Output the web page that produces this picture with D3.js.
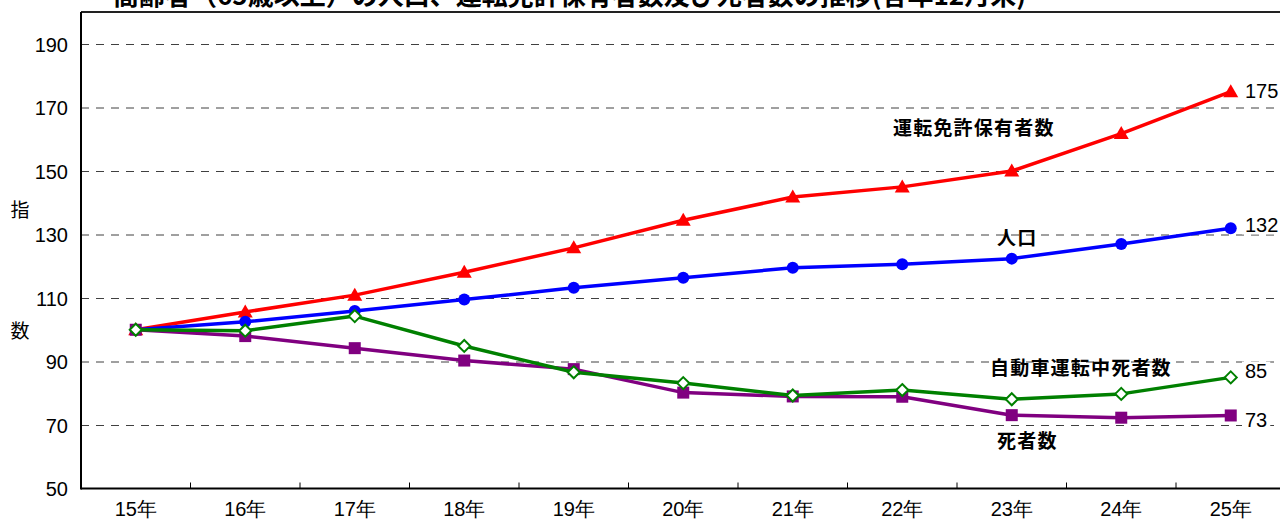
<!DOCTYPE html>
<html>
<head>
<meta charset="utf-8">
<script src="https://cdn.jsdelivr.net/npm/d3@7"></script>
<style>
  html, body { margin: 0; padding: 0; background: #fff; overflow: hidden; }
  svg { display: block; }
  .num { font-family: "Liberation Sans Narrow", "Arial Narrow", "Liberation Sans", sans-serif; font-size: 20px; fill: #000; }
  .jp { font-family: "Noto Sans CJK JP", sans-serif; fill: #000; }
</style>
</head>
<body>
<svg id="chart" width="1280" height="525"></svg>
<script>
// Index values (15年 = 100), elderly aged 65+
const years = ["15年", "16年", "17年", "18年", "19年", "20年", "21年", "22年", "23年", "24年", "25年"];
const licenseHolders = [100, 105.6, 110.9, 118.1, 125.8, 134.5, 141.8, 145.0, 150.0, 161.8, 175];
const population = [100, 102.5, 105.9, 109.5, 113.2, 116.4, 119.5, 120.6, 122.4, 127.0, 132];
const driverDeaths = [100, 99.7, 104.3, 94.9, 86.6, 83.2, 79.3, 81.0, 78.1, 79.8, 85];
const deaths = [100, 98.0, 94.2, 90.3, 87.6, 80.2, 79.0, 78.9, 73.1, 72.3, 73];
const yTicks = [50, 70, 90, 110, 130, 150, 170, 190];

const series = [
  { name: "運転免許保有者数", values: licenseHolders, color: "#ff0000", marker: "triangle", end: "175", lx: 893, ly: 128 },
  { name: "人口", values: population, color: "#0000ff", marker: "circle", end: "132", lx: 997, ly: 238 },
  { name: "死者数", values: deaths, color: "#800080", marker: "square", end: "73", lx: 997, ly: 441 },
  { name: "自動車運転中死者数", values: driverDeaths, color: "#008000", marker: "diamond", end: "85", lx: 990, ly: 368 }
];

const svg = d3.select("#chart");
const plotLeft = 81, plotTop = 12, plotBottom = 488.5, plotRight = 1285.5;

const x = d3.scaleBand().domain(years).range([plotLeft, plotRight]).padding(0);
const y = d3.scaleLinear().domain([50, 190]).range([plotBottom, 44]);

// Title (runs off the top edge)
svg.append("text")
  .attr("class", "jp")
  .attr("x", 113).attr("y", 5)
  .attr("font-size", 26).attr("font-weight", "bold")
  .text("高齢者（65歳以上）の人口、運転免許保有者数及び死者数の推移(各年12月末)");

// Dashed gridlines
svg.append("g")
  .attr("transform", `translate(${plotLeft},0)`)
  .call(d3.axisLeft(y).tickValues(yTicks.filter(v => v > 50)).tickSize(-(1280 - plotLeft)).tickFormat(""))
  .call(g => g.select(".domain").remove())
  .call(g => g.selectAll("line").attr("stroke", "#404040").attr("stroke-width", 1).attr("stroke-dasharray", "8,7"));

// Y axis labels
svg.append("g")
  .attr("transform", `translate(${plotLeft},0)`)
  .call(d3.axisLeft(y).tickValues(yTicks).tickSize(0).tickPadding(13).tickFormat(d3.format("d")))
  .call(g => g.select(".domain").remove())
  .call(g => g.selectAll("text").attr("class", "num").attr("font-size", null).attr("font-family", null).attr("dy", "0.36em"));

// X axis labels
svg.append("g")
  .attr("transform", `translate(0,${plotBottom})`)
  .call(d3.axisBottom(x).tickSize(0).tickPadding(20))
  .call(g => g.select(".domain").remove())
  .call(g => g.selectAll("text").attr("class", "num").attr("font-size", null).attr("font-family", null).attr("dy", "0.36em"));

// Inner tick marks at category boundaries
svg.append("g").selectAll("line")
  .data(years.slice(1))
  .join("line")
  .attr("x1", d => x(d)).attr("x2", d => x(d))
  .attr("y1", plotBottom).attr("y2", plotBottom - 6)
  .attr("stroke", "#000").attr("stroke-width", 1);

// Frame: top rule, left axis, bottom axis
svg.append("line").attr("x1", plotLeft).attr("x2", 1280).attr("y1", plotTop).attr("y2", plotTop)
  .attr("stroke", "#222").attr("stroke-width", 2);
svg.append("line").attr("x1", plotLeft).attr("x2", plotLeft).attr("y1", plotTop).attr("y2", plotBottom + 1)
  .attr("stroke", "#000").attr("stroke-width", 2);
svg.append("line").attr("x1", plotLeft).attr("x2", 1280).attr("y1", plotBottom).attr("y2", plotBottom)
  .attr("stroke", "#000").attr("stroke-width", 2);

// Y axis title
svg.append("text").attr("class", "jp").attr("x", 20).attr("y", 210).attr("dy", "0.35em")
  .attr("text-anchor", "middle").attr("font-size", 19).text("指");
svg.append("text").attr("class", "jp").attr("x", 20).attr("y", 331).attr("dy", "0.35em")
  .attr("text-anchor", "middle").attr("font-size", 19).text("数");

const cx = d => x(d) + x.bandwidth() / 2;
const line = d3.line().x((v, i) => cx(years[i])).y(v => y(v));

function drawMarker(g, type, color, px, py) {
  if (type === "triangle") {
    g.append("path").attr("d", `M${px},${py - 7.5}L${px + 7.5},${py + 5.5}L${px - 7.5},${py + 5.5}Z`).attr("fill", color);
  } else if (type === "circle") {
    g.append("circle").attr("cx", px).attr("cy", py).attr("r", 6).attr("fill", color);
  } else if (type === "square") {
    g.append("rect").attr("x", px - 6).attr("y", py - 6).attr("width", 12).attr("height", 12).attr("fill", color);
  } else {
    g.append("path").attr("d", `M${px},${py - 6}L${px + 6},${py}L${px},${py + 6}L${px - 6},${py}Z`)
      .attr("fill", "#fff").attr("stroke", color).attr("stroke-width", 2);
  }
}

series.forEach(s => {
  const g = svg.append("g");
  g.append("path").attr("d", line(s.values)).attr("fill", "none")
    .attr("stroke", s.color).attr("stroke-width", 3.5).attr("stroke-linejoin", "round");
  s.values.forEach((v, i) => drawMarker(g, s.marker, s.color, cx(years[i]), y(v)));
});

// End-of-series values with a white backing
const endOffsets = { "175": -1, "132": -3, "85": -7, "73": 4 };
series.forEach(s => {
  const last = s.values[s.values.length - 1];
  const t = svg.append("text").attr("class", "num")
    .attr("x", 1245).attr("y", y(last) + endOffsets[s.end]).attr("dy", "0.36em")
    .text(s.end);
  const b = t.node().getBBox();
  svg.insert("rect", function () { return t.node(); })
    .attr("x", b.x - 3).attr("y", b.y + 2).attr("width", b.width + 6).attr("height", b.height - 4)
    .attr("fill", "#fff");
});

// Series names
series.forEach(s => {
  svg.append("text").attr("class", "jp")
    .attr("x", s.lx).attr("y", s.ly).attr("dy", "0.36em")
    .attr("font-size", 19).attr("font-weight", "bold").attr("letter-spacing", 1.2)
    .text(s.name);
});
</script>
</body>
</html>
